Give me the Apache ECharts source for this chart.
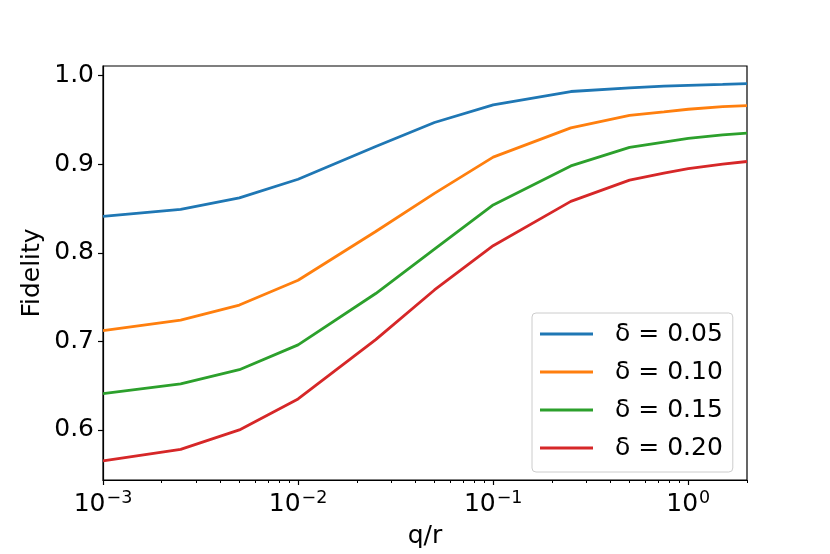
<!DOCTYPE html>
<html>
<head>
<meta charset="utf-8">
<script src="https://cdn.jsdelivr.net/npm/echarts@6/dist/echarts.min.js"></script>
<style>
  html, body { margin: 0; padding: 0; background: #fff; }
  #chart { width: 830px; height: 554px; }
</style>
</head>
<body>
<div id="chart"></div>
<script>
// values
const qr = [0.001, 0.0025, 0.005, 0.01, 0.025, 0.05, 0.1, 0.25, 0.5, 0.75, 1, 1.5, 2];
const names = ['δ = 0.05', 'δ = 0.10', 'δ = 0.15', 'δ = 0.20'];
const fid005 = [0.841, 0.849, 0.862, 0.883, 0.920, 0.947, 0.967, 0.982, 0.986, 0.988, 0.989, 0.990, 0.991];
const fid010 = [0.712, 0.724, 0.741, 0.769, 0.824, 0.867, 0.908, 0.941, 0.955, 0.959, 0.962, 0.965, 0.966];
const fid015 = [0.641, 0.652, 0.668, 0.696, 0.754, 0.804, 0.854, 0.898, 0.919, 0.925, 0.929, 0.933, 0.935];
const fid020 = [0.565, 0.578, 0.600, 0.635, 0.702, 0.758, 0.808, 0.858, 0.882, 0.890, 0.895, 0.900, 0.903];
const colors = ['#1f77b4', '#ff7f0e', '#2ca02c', '#d62728'];

const xMajor = [0.001, 0.01, 0.1, 1];
const xMinor = [0.002, 0.003, 0.004, 0.005, 0.006, 0.007, 0.008, 0.009,
  0.02, 0.03, 0.04, 0.05, 0.06, 0.07, 0.08, 0.09,
  0.2, 0.3, 0.4, 0.5, 0.6, 0.7, 0.8, 0.9, 2];
const yTicks = [0.6, 0.7, 0.8, 0.9, 1.0];

const FONT = 'DejaVu Sans';
const FS = 25;
const allFid = [fid005, fid010, fid015, fid020];

var myChart = echarts.init(document.getElementById('chart'));

function supLabel(v) {
  var e = Math.round(Math.log10(v));
  return '{b|10}{s|' + (e < 0 ? '\u2212' + (-e) : e) + '}';
}

var seriesList = allFid.map(function (arr, i) {
  return {
    type: 'line',
    name: names[i],
    data: qr.map(function (x, j) { return [x, arr[j]]; }),
    showSymbol: false,
    symbol: 'none',
    lineStyle: { color: colors[i], width: 2.8 },
    itemStyle: { color: colors[i] },
    animation: false
  };
});

var option = {
  animation: false,
  textStyle: { fontFamily: FONT },
  grid: {
    left: 103, right: 83, top: 66, bottom: 70,
    show: true, borderColor: '#000', borderWidth: 1.2
  },
  legend: {
    orient: 'vertical',
    left: 532, top: 313,
    padding: [8, 10, 11, 8],
    icon: 'rect',
    itemWidth: 53, itemHeight: 3, itemGap: 12,
    backgroundColor: 'rgba(255,255,255,0.8)',
    borderColor: '#cccccc', borderWidth: 1, borderRadius: 4,
    textStyle: { fontFamily: FONT, fontSize: FS, color: '#000', lineHeight: 26, padding: [0, 0, 0, 17] },
    data: names
  },
  xAxis: [{
    type: 'log',
    logBase: 10,
    min: 0.001, max: 2,
    name: 'q/r',
    nameLocation: 'middle',
    nameGap: 44,
    nameTextStyle: { fontFamily: FONT, fontSize: FS, color: '#000' },
    axisLine: { show: true, lineStyle: { color: '#000', width: 1.2 } },
    axisTick: { show: true, length: 5, inside: false, customValues: xMajor, lineStyle: { color: '#000', width: 1.2 } },
    axisLabel: {
      customValues: xMajor,
      margin: 9,
      formatter: supLabel,
      rich: {
        b: { fontFamily: FONT, fontSize: FS, color: '#000' },
        s: { fontFamily: FONT, fontSize: 17.5, color: '#000', verticalAlign: 'top', padding: [0, 0, 12, 1] }
      }
    },
    splitLine: { show: false },
    minorTick: { show: false }
  }, {
    type: 'log',
    logBase: 10,
    min: 0.001, max: 2,
    position: 'bottom',
    axisLine: { show: false },
    axisTick: { show: true, length: 3, customValues: xMinor, lineStyle: { color: '#000', width: 1 } },
    axisLabel: { show: false },
    splitLine: { show: false }
  }],
  yAxis: {
    type: 'value',
    min: 0.5435, max: 1.0108,
    name: 'Fidelity',
    nameLocation: 'middle',
    nameGap: 58,
    nameMoveOverlap: false,
    nameTextStyle: { fontFamily: FONT, fontSize: FS, color: '#000' },
    axisLine: { show: true, lineStyle: { color: '#000', width: 1.2 } },
    axisTick: { show: true, length: 5, customValues: yTicks, lineStyle: { color: '#000', width: 1.2 } },
    axisLabel: {
      customValues: yTicks,
      margin: 9,
      fontFamily: FONT, fontSize: FS, color: '#000',
      formatter: function (v) { return v.toFixed(1); }
    },
    splitLine: { show: false }
  },
  series: seriesList
};
myChart.setOption(option);
</script>
</body>
</html>
